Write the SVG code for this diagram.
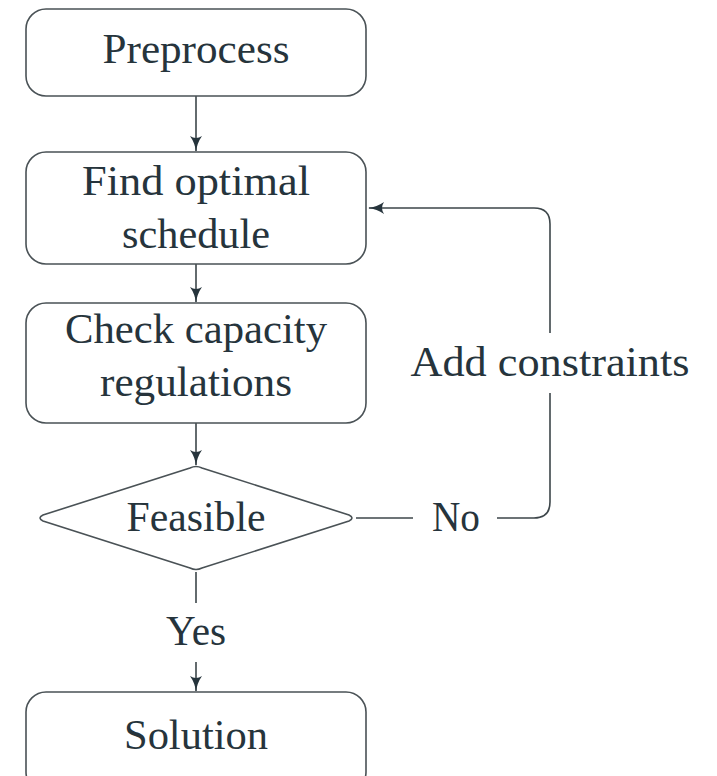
<svg xmlns="http://www.w3.org/2000/svg" width="717" height="776" viewBox="0 0 717 776">
<style>
.box{fill:#fff;stroke:#4a5256;stroke-width:1.6}
.t{font-family:"Liberation Serif",serif;font-size:42px;fill:#26343c;text-anchor:middle}
.c{fill:none;stroke:#3d464a;stroke-width:1.6}
</style>
<defs>
<marker id="ah" viewBox="0 0 16 12" refX="15" refY="6" markerWidth="16" markerHeight="12" markerUnits="userSpaceOnUse" orient="auto">
<path d="M0,0 Q7,5 16,6 Q7,7 0,12 Q4,6 0,0Z" fill="#26343c"/>
</marker>
</defs>
<rect width="717" height="776" fill="#fff"/>
<g id="connectors">
<line class="c" x1="196" y1="96" x2="196" y2="151" marker-end="url(#ah)"/>
<line class="c" x1="196" y1="264" x2="196" y2="302" marker-end="url(#ah)"/>
<line class="c" x1="196" y1="423" x2="196" y2="465" marker-end="url(#ah)"/>
<line class="c" x1="196" y1="572" x2="196" y2="603"/>
<line class="c" x1="196" y1="662" x2="196" y2="691" marker-end="url(#ah)"/>
<line class="c" x1="356" y1="518" x2="413" y2="518"/>
<path class="c" d="M497,518 H534 Q550,518 550,502 V393"/>
<path class="c" d="M550,333 V224 Q550,208 534,208 H369" marker-end="url(#ah)"/>
<text class="t" x="456" y="531" textLength="48" lengthAdjust="spacingAndGlyphs">No</text>
<text class="t" x="550" y="376" textLength="279" lengthAdjust="spacingAndGlyphs">Add constraints</text>
<text class="t" x="196" y="645" textLength="60" lengthAdjust="spacingAndGlyphs">Yes</text>
</g>
<g id="preprocess">
<rect class="box" x="26" y="9" width="340" height="87" rx="20"/>
<text class="t" x="196" y="63" textLength="187" lengthAdjust="spacingAndGlyphs">Preprocess</text>
</g>
<g id="find">
<rect class="box" x="26" y="152" width="340" height="112" rx="20"/>
<text class="t" x="196" y="195" textLength="228" lengthAdjust="spacingAndGlyphs">Find optimal</text>
<text class="t" x="196" y="248" textLength="148" lengthAdjust="spacingAndGlyphs">schedule</text>
</g>
<g id="check">
<rect class="box" x="26" y="303" width="340" height="120" rx="20"/>
<text class="t" x="196" y="343" textLength="262" lengthAdjust="spacingAndGlyphs">Check capacity</text>
<text class="t" x="196" y="396" textLength="192" lengthAdjust="spacingAndGlyphs">regulations</text>
</g>
<g id="feasible">
<path class="box" d="M190,468 Q196,465 202,468 L349,515 Q355,518 349,521 L202,568 Q196,571 190,568 L43,521 Q37,518 43,515 Z"/>
<text class="t" x="196" y="531" textLength="139" lengthAdjust="spacingAndGlyphs">Feasible</text>
</g>
<g id="solution">
<rect class="box" x="26" y="692" width="340" height="100" rx="20"/>
<text class="t" x="196" y="749" textLength="144" lengthAdjust="spacingAndGlyphs">Solution</text>
</g>
</svg>
